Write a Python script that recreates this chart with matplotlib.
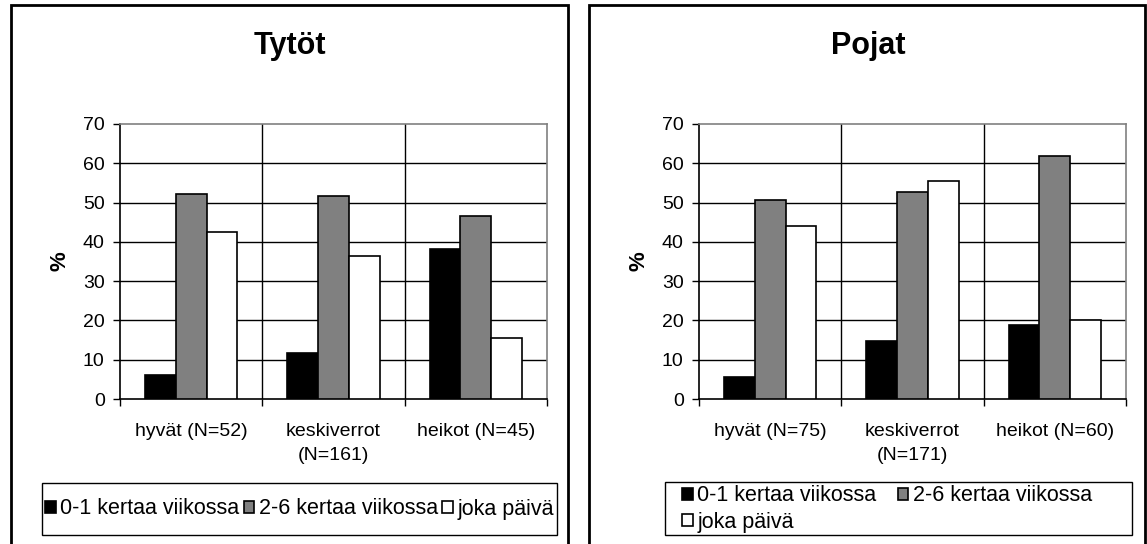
import numpy as np
import matplotlib
matplotlib.use('Agg')
import matplotlib.pyplot as plt
from matplotlib.patches import Rectangle

plt.rcParams['font.family'] = ['Liberation Sans', 'DejaVu Sans']

# data
series = ['0-1 kertaa viikossa', '2-6 kertaa viikossa', 'joka päivä']
colors = ['black', '#808080', 'white']

girls_cats = ['hyvät (N=52)', 'keskiverrot\n(N=161)', 'heikot (N=45)']
girls_vals = [[6.0, 11.6, 38.1],
              [52.2, 51.6, 46.6],
              [42.6, 36.5, 15.6]]

boys_cats = ['hyvät (N=75)', 'keskiverrot\n(N=171)', 'heikot (N=60)']
boys_vals = [[5.6, 14.8, 18.8],
             [50.7, 52.8, 61.9],
             [44.1, 55.4, 20.0]]

W, H = 1147, 544
fig = plt.figure(figsize=(W / 100, H / 100), dpi=100)
FS = 14
LFS = 15.5


def px_axes(x0, y0, x1, y1):
    # pixel box (top-left origin) -> figure axes
    return fig.add_axes([x0 / W, 1 - y1 / H, (x1 - x0) / W, (y1 - y0) / H])


def px_box(x0, y0, x1, y1, lw):
    fig.patches.append(Rectangle((x0 / W, 1 - y1 / H), (x1 - x0) / W, (y1 - y0) / H,
                                 transform=fig.transFigure, fill=False,
                                 edgecolor='black', lw=lw))


def panel(ax, cats, vals):
    x = np.arange(len(cats))
    bw = 0.217
    bars = []
    for i, (v, c) in enumerate(zip(vals, colors)):
        b = ax.bar(x + (i - 1) * bw, v, bw, color=c, edgecolor='black',
                   linewidth=1.2, zorder=3)
        bars.append(b)
    ax.set_xlim(-0.5, 2.5)
    ax.set_ylim(0, 70)
    ax.set_yticks(range(0, 71, 10))
    for yv in range(10, 70, 10):
        ax.axhline(yv, color='black', lw=1, zorder=1)
    for xv in [0.5, 1.5]:
        ax.axvline(xv, color='black', lw=1, zorder=1)
    ax.set_xticks([-0.5, 0.5, 1.5, 2.5])
    ax.set_xticklabels([])
    ax.set_xticks(x, minor=True)
    ax.set_xticklabels(cats, minor=True, fontsize=FS, linespacing=1.6)
    ax.tick_params(axis='x', which='minor', length=0, pad=17)
    ax.tick_params(axis='x', which='major', length=5, width=1, direction='out')
    ax.tick_params(axis='y', length=5, width=1, direction='out', labelsize=FS, pad=6)
    for s in ['left', 'bottom']:
        ax.spines[s].set_color('black')
        ax.spines[s].set_linewidth(1.2)
    for s in ['top', 'right']:
        ax.spines[s].set_color('#808080')
        ax.spines[s].set_linewidth(1.2)
    ax.set_ylabel('%', fontsize=16, fontweight='bold', labelpad=9)
    return bars


ax1 = px_axes(120, 124, 547, 399)
bars1 = panel(ax1, girls_cats, girls_vals)
ax2 = px_axes(699, 124, 1126, 399)
bars2 = panel(ax2, boys_cats, boys_vals)

fig.text(290 / W, 1 - 46 / H, 'Tytöt', ha='center', va='center',
         fontsize=22, fontweight='bold')
fig.text(868 / W, 1 - 46 / H, 'Pojat', ha='center', va='center',
         fontsize=22, fontweight='bold')

# outer panel boxes (bottom edge runs off the image)
px_box(11, 5, 568, 560, 2)
px_box(589, 5, 1145, 560, 2)

# legend frames
px_box(42, 483, 557, 535, 1)
px_box(665, 482, 1132, 535, 1)

leg_kw = dict(loc='center left', fontsize=LFS, frameon=False,
              handlelength=0.5, handleheight=0.5, handletextpad=0.2,
              borderpad=0, borderaxespad=0)
fig.legend([b[0] for b in bars1], series, ncol=3, columnspacing=0.2,
           bbox_to_anchor=(45 / W, 1 - 509 / H), **leg_kw)
# row-major order: 0-1, 2-6 on first row, joka päivä below
order = [0, 2, 1]
fig.legend([bars2[i][0] for i in order], [series[i] for i in order],
           ncol=2, columnspacing=1.0, labelspacing=0.25,
           bbox_to_anchor=(682 / W, 1 - 509 / H), **leg_kw)

fig.savefig('out.png', dpi=100)
